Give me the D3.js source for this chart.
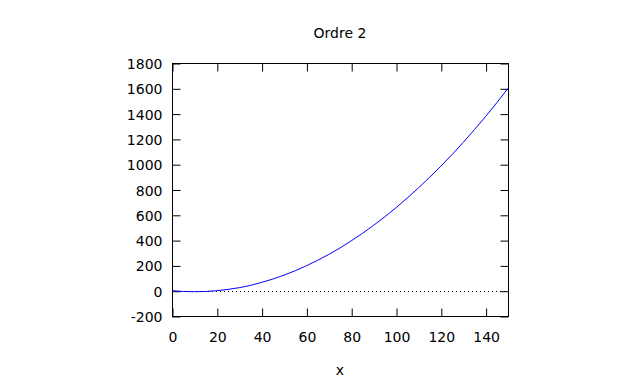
<!DOCTYPE html>
<html>
<head>
<meta charset="utf-8">
<script src="https://cdn.jsdelivr.net/npm/d3@7"></script>
<style>
  html, body { margin: 0; padding: 0; background: #fff; }
  svg { display: block; }
  text { font-family: "DejaVu Sans", Verdana, sans-serif; font-size: 14px; fill: #000; }
</style>
</head>
<body>
<svg id="chart" width="640" height="384"></svg>
<script>
// Data
const xValues = [0, 5, 10, 15, 20, 25, 30, 35, 40, 45, 50, 55, 60, 65, 70, 75, 80, 85, 90, 95, 100, 105, 110, 115, 120, 125, 130, 135, 140, 145, 150];
const yValues = [0, -6, -8, -6, 0, 10, 24, 42, 66, 92, 123, 158, 197, 240, 287, 338, 394, 453, 517, 584, 656, 732, 812, 896, 984, 1076, 1172, 1273, 1377, 1486, 1600];
const xTicks = [0, 20, 40, 60, 80, 100, 120, 140];
const yTicks = [-200, 0, 200, 400, 600, 800, 1000, 1200, 1400, 1600, 1800];
const titleText = "Ordre 2";
const xLabelText = "x";

const svg = d3.select("#chart");
const mLeft = 172, mRight = 508, mTop = 63, mBottom = 316;

const x = d3.scaleLinear().domain([0, 150]).range([mLeft, mRight]);
const y = d3.scaleLinear().domain([-200, 1800]).range([mBottom, mTop]);

const tickLen = 8;
const fmt = d => String(d);

const xAxis = svg.append("g").attr("transform", `translate(0.5,${mBottom + 0.5})`)
  .call(d3.axisBottom(x).tickValues(xTicks).tickSizeInner(-tickLen).tickSizeOuter(0).tickFormat(fmt));
const xAxisTop = svg.append("g").attr("transform", `translate(0.5,${mTop + 0.5})`)
  .call(d3.axisTop(x).tickValues(xTicks).tickSizeInner(-tickLen).tickSizeOuter(0).tickFormat(""));
const yAxis = svg.append("g").attr("transform", `translate(${mLeft + 0.5},0.5)`)
  .call(d3.axisLeft(y).tickValues(yTicks).tickSizeInner(-tickLen).tickSizeOuter(0).tickFormat(fmt));
const yAxisRight = svg.append("g").attr("transform", `translate(${mRight + 0.5},0.5)`)
  .call(d3.axisRight(y).tickValues(yTicks).tickSizeInner(-tickLen).tickSizeOuter(0).tickFormat(""));

[xAxis, xAxisTop, yAxis, yAxisRight].forEach(g => {
  g.select(".domain").remove();
  g.selectAll("line").attr("stroke", "#000").attr("stroke-width", 1);
  g.selectAll("text").attr("fill", "#000").style("font-size", "14px")
    .style("font-family", '"DejaVu Sans", Verdana, sans-serif');
});
xAxis.selectAll("text").attr("dy", null).attr("y", 25);
yAxis.selectAll("text").attr("x", -10).attr("dy", "0.36em");

// Zero line (dotted)
svg.append("line")
  .attr("x1", x(0)).attr("x2", x(150))
  .attr("y1", Math.round(y(0)) + 0.5).attr("y2", Math.round(y(0)) + 0.5)
  .attr("stroke", "#000").attr("stroke-width", 1).attr("stroke-dasharray", "1,3");

// Curve
const pts = xValues.map((v, i) => [v, yValues[i]]);
svg.append("path")
  .datum(pts)
  .attr("fill", "none")
  .attr("stroke", "#0000ff")
  .attr("stroke-width", 1)
  .attr("d", d3.line().x(d => x(d[0])).y(d => y(d[1])).curve(d3.curveMonotoneX));

// Frame
svg.append("rect")
  .attr("x", mLeft + 0.5).attr("y", mTop + 0.5)
  .attr("width", mRight - mLeft).attr("height", mBottom - mTop)
  .attr("fill", "none").attr("stroke", "#000").attr("stroke-width", 1);

// Title and x label
svg.append("text").attr("x", (mLeft + mRight) / 2).attr("y", 38)
  .attr("text-anchor", "middle").text(titleText);
svg.append("text").attr("x", (mLeft + mRight) / 2).attr("y", 375)
  .attr("text-anchor", "middle").text(xLabelText);
</script>
</body>
</html>
